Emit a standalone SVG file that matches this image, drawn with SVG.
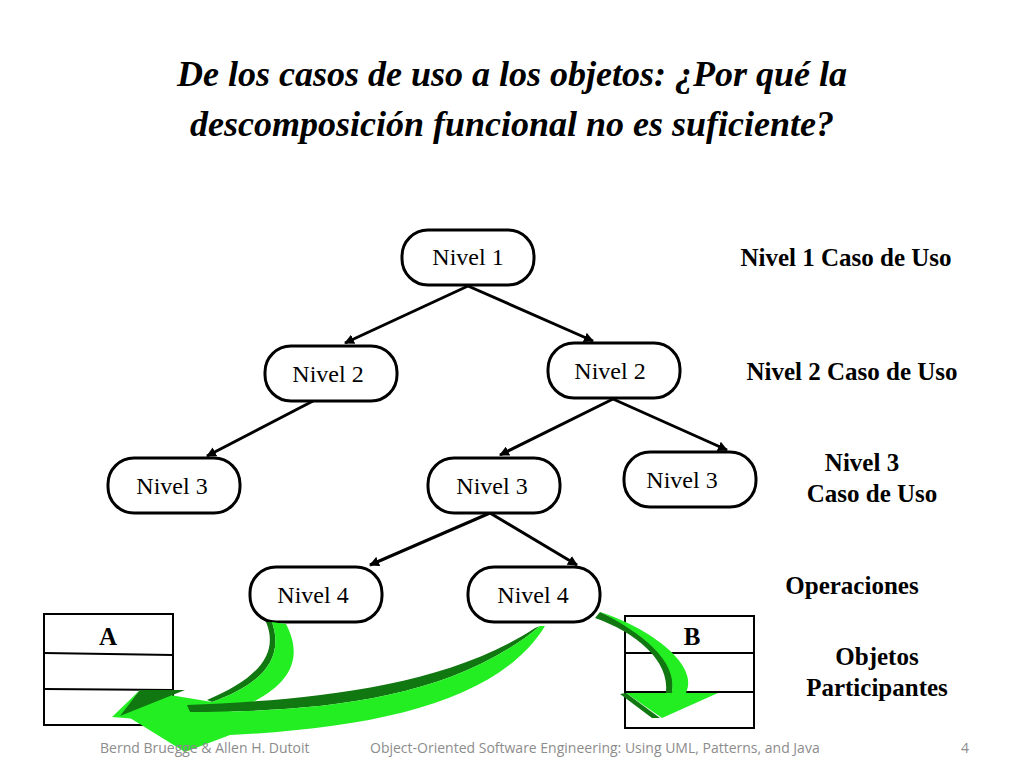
<svg xmlns="http://www.w3.org/2000/svg" width="1024" height="768" viewBox="0 0 1024 768">
<defs>
<marker id="ah" markerWidth="10" markerHeight="10" refX="9" refY="5" orient="auto" markerUnits="userSpaceOnUse" viewBox="0 0 10 10"><path d="M0,0 L10,5 L0,10 Z" fill="#000"/></marker>
</defs>
<style>
.n rect{fill:#fff;stroke:#000;stroke-width:3}
.n text{font-family:"Liberation Serif",serif;font-size:24px;text-anchor:middle}
.lbl{font-family:"Liberation Serif",serif;font-size:25px;font-weight:bold;text-anchor:middle}
.ttl{font-family:"Liberation Serif","DejaVu Serif",serif;font-size:36px;font-style:italic;font-weight:bold;text-anchor:middle}
.c line{stroke:#000;stroke-width:3;marker-end:url(#ah)}
.box{fill:#fff;stroke:#000;stroke-width:2}
.g{fill:#22ee22}
.gd{fill:#117711}
.ft{font-family:"Open Sans","Liberation Sans",sans-serif;font-size:14px;fill:#8c8c8c}
</style>
<rect width="1024" height="768" fill="#fff"/>
<text class="ttl" x="512" y="86">De los casos de uso a los objetos: ¿Por qué la</text>
<text class="ttl" x="512" y="136">descomposición funcional no es suficiente?</text>
<g class="c">
<line x1="468" y1="286" x2="345" y2="343"/>
<line x1="468" y1="286" x2="593" y2="341"/>
<line x1="313" y1="401" x2="207" y2="456"/>
<line x1="613" y1="399" x2="500" y2="455"/>
<line x1="613" y1="399" x2="727" y2="450"/>
<line x1="490" y1="513" x2="370" y2="565"/>
<line x1="490" y1="513" x2="577" y2="565"/>
</g>
<g id="n1" class="n"><rect x="402" y="230" width="132" height="55" rx="26"/><text x="468" y="265">Nivel 1</text></g>
<g id="n2a" class="n"><rect x="265" y="346" width="132" height="55" rx="26"/><text x="328" y="382">Nivel 2</text></g>
<g id="n2b" class="n"><rect x="548" y="343" width="132" height="55" rx="26"/><text x="610" y="379">Nivel 2</text></g>
<g id="n3a" class="n"><rect x="108" y="458" width="132" height="55" rx="26"/><text x="172" y="494">Nivel 3</text></g>
<g id="n3b" class="n"><rect x="428" y="458" width="132" height="55" rx="26"/><text x="492" y="494">Nivel 3</text></g>
<g id="n3c" class="n"><rect x="624" y="452" width="132" height="55" rx="26"/><text x="682" y="488">Nivel 3</text></g>
<g id="n4a" class="n"><rect x="250" y="567" width="132" height="55" rx="26"/><text x="313" y="603">Nivel 4</text></g>
<g id="n4b" class="n"><rect x="468" y="567" width="132" height="55" rx="26"/><text x="533" y="603">Nivel 4</text></g>
<text class="lbl" x="846" y="266">Nivel 1 Caso de Uso</text>
<text class="lbl" x="852" y="380">Nivel 2 Caso de Uso</text>
<text class="lbl" x="862" y="471">Nivel 3</text>
<text class="lbl" x="872" y="502">Caso de Uso</text>
<text class="lbl" x="852" y="594">Operaciones</text>
<text class="lbl" x="877" y="665">Objetos</text>
<text class="lbl" x="877" y="696">Participantes</text>
<g id="A"><rect class="box" x="44" y="614" width="129" height="111"/><line x1="44" y1="653" x2="173" y2="655" stroke="#000" stroke-width="2"/><line x1="44" y1="689" x2="173" y2="690" stroke="#000" stroke-width="2"/><text class="lbl" x="108" y="645">A</text></g>
<g id="B"><rect class="box" x="625" y="616" width="129" height="112"/><line x1="625" y1="653" x2="754" y2="653" stroke="#000" stroke-width="2"/><line x1="625" y1="692" x2="754" y2="692" stroke="#000" stroke-width="2"/><text class="lbl" x="692" y="645">B</text></g>
<g id="arrows">
<path class="gd" d="M207,700 C255,680 280,655 266,622 L272,622 C285,660 260,685 212,702 Z"/>
<path class="g" d="M212,702 C260,685 285,660 272,622 L286,624 C305,660 290,690 230,712 L240,727 L112,717 L140,690 Z"/>
<path class="gd" d="M185,690 L120,716 L140,690 Z"/>
<path class="gd" d="M187,705 C300,700 440,690 535,628 L540,626 C450,702 310,712 190,712 Z"/>
<path class="g" d="M190,712 C310,712 450,702 540,626 L545,626 C500,700 380,728 230,735 L185,752 L130,718 L180,700 Z"/>
<path class="gd" d="M600,612 C640,630 680,660 672,693 L666,693 C670,660 635,632 595,618 Z"/>
<path class="g" d="M600,612 C650,628 700,665 686,693 L718,693 L662,718 L626,693 L672,693 C678,660 640,632 600,612 Z"/>
<path class="gd" d="M626,693 L660,718 L652,718 L620,694 Z"/>
</g>
<text class="ft" x="100" y="753">Bernd Bruegge &amp; Allen H. Dutoit</text>
<text class="ft" x="370" y="753">Object-Oriented Software Engineering: Using UML, Patterns, and Java</text>
<text class="ft" x="961" y="753">4</text>
</svg>
